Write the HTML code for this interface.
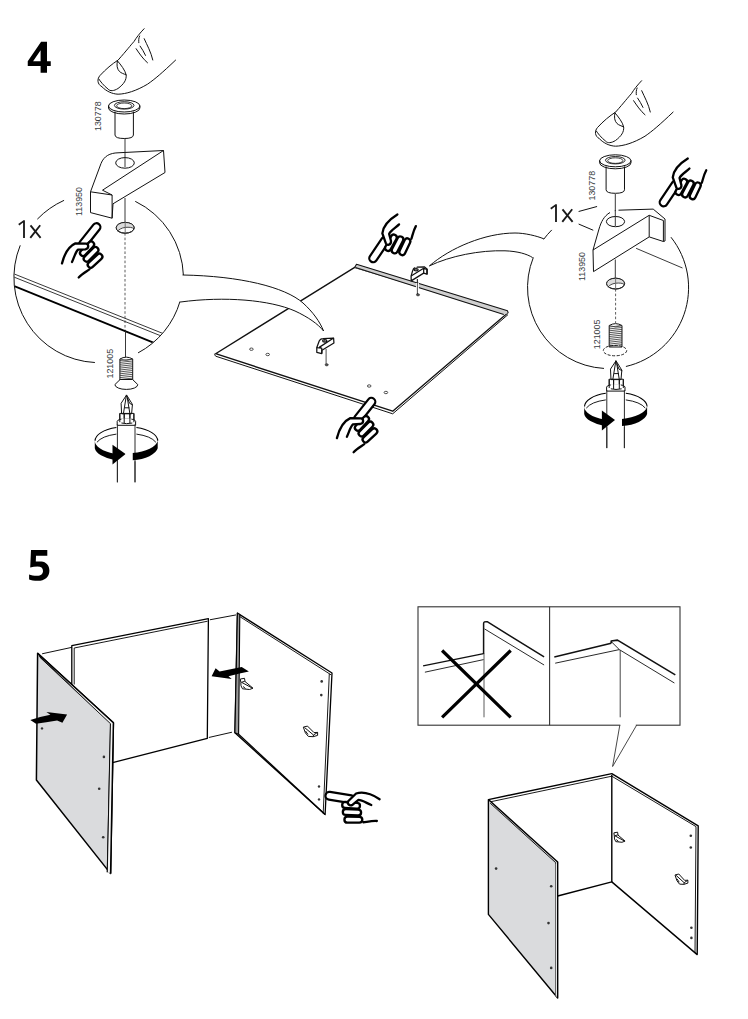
<!DOCTYPE html>
<html><head><meta charset="utf-8">
<style>
html,body{margin:0;padding:0;background:#fff;}
body{width:748px;height:1019px;overflow:hidden;position:relative;font-family:"Liberation Sans",sans-serif;}
svg{position:absolute;left:0;top:0;}
.n{font-family:"Liberation Sans",sans-serif;font-weight:bold;fill:#000;}
.pn{font-family:"Liberation Sans",sans-serif;font-size:8.9px;fill:#383c42;}
.ln{fill:none;stroke:#111;stroke-width:1;stroke-linecap:round;stroke-linejoin:round;}
.th{fill:none;stroke:#000;stroke-width:1.6;stroke-linecap:round;stroke-linejoin:round;}
</style></head>
<body>
<svg width="748" height="1019" viewBox="0 0 748 1019">
<defs>
  <!-- hand, local coords: zoom-units relative to finger tip centre -->
  <g id="hand" stroke-linecap="round" stroke-linejoin="round" fill="none">
    <path d="M0,0 L-13.5,17" stroke="#000" stroke-width="10"/><path d="M0,0 L-13.5,17" stroke="#fff" stroke-width="5.6"/>
    <path d="M-5.8,37.7 L2.9,29.6" stroke="#000" stroke-width="8.2"/><path d="M-5.8,37.7 L2.9,29.6" stroke="#fff" stroke-width="3.6"/>
    <path d="M-9.8,31.6 L-1.1,22.9" stroke="#000" stroke-width="8.2"/><path d="M-9.8,31.6 L-1.1,22.9" stroke="#fff" stroke-width="3.6"/>
    <path d="M-13.5,25.9 L-5.4,17.3" stroke="#000" stroke-width="8.2"/><path d="M-13.5,25.9 L-5.4,17.3" stroke="#fff" stroke-width="3.6"/>
    <path d="M-21.1,16.3 L-10.4,16.6 C-7.8,16.9 -7.1,21.3 -11.1,22.2 L-18.5,22.6 Z" fill="#fff" stroke="none"/>
    <path d="M-34.5,36.3 C-32.5,28.3 -28.5,19.6 -21.1,16.3 L-10.4,16.6 C-7.8,16.9 -7.1,21.3 -11.1,22.2 L-18.5,22.6 C-21.1,24.9 -22.5,30.9 -24.5,34.9" stroke="#000" stroke-width="2.3"/>
    <path d="M-17.8,50.4 C-14.5,46.9 -9.8,44.3 -7.1,42.3" stroke="#000" stroke-width="2.3"/>
  </g>
  <!-- grommet 130778 centred at flange centre -->
  <g id="grommet">
    <path class="ln" d="M-9.2,8 L-9.2,31 Q-9,34.5 0,34.5 Q9,34.5 9.2,31 L9.2,8" fill="#fff"/>
    <ellipse cx="0" cy="2" rx="15.7" ry="6" fill="#fff" stroke="#111" stroke-width="1"/>
    <path class="ln" d="M-15.7,2 L-15.7,4 A15.7,6 0 0 0 15.7,4 L15.7,2"/>
    <ellipse cx="0" cy="1.4" rx="9.8" ry="3.7" fill="none" stroke="#111" stroke-width="0.9"/>
    <ellipse cx="0" cy="1.8" rx="7.6" ry="2.8" fill="none" stroke="#111" stroke-width="0.8"/>
  </g>
  <!-- finger -->
  <g id="finger">
    <path class="ln" stroke-width="1.2" d="M144.1,28.7 C140,33 136,38 134.1,41.4 C130,46 127,50 118.1,60.1 C112,64 106,69 100,75.5 C97,79 97,84 102,86.8 C106,91 112,94 118.1,94.2 C126,94 136,91 147.5,84.2 C155,79 162,73 175.6,60.1"/>
    <path class="ln" stroke-width="1.15" d="M117.4,60.8 C121,65 125,70 126.2,75 C126.5,80 124,84 118,88.5 C114,91 110,91.5 108,89 C104,86 100,81 98.8,79"/>
    <path class="ln" d="M117.4,61 C116.5,65 117,69 119.5,71.5 C121,73 124,74 126,74.8" stroke-width="0.95"/>
    <path class="ln" d="M139.6,36 C138.6,38 138.6,41 138.8,42.7" stroke-width="0.95"/>
    <path class="ln" d="M144.2,38.7 C147,45 151,52 152.8,60" stroke-width="0.95"/>
    <path class="ln" d="M140.1,46.1 C142,49 144,52 145.5,55.4" stroke-width="0.95"/>
    <path class="ln" d="M136.1,48.7 C139,53 143,59 147.5,62.8" stroke-width="0.95"/>
  </g>
  <!-- screw thread body -->
  <g id="thread">
    <path d="M-6.4,1.5 L-6.4,23 L6.4,23 L6.4,1.5 Q0,-2.2 -6.4,1.5 Z" fill="#fff" stroke="#111" stroke-width="1"/>
    <path fill="none" stroke="#222" stroke-width="0.75" d="M-6.4,3.0 L6.4,1.6 M-6.4,4.9 L6.4,3.5 M-6.4,6.8 L6.4,5.4 M-6.4,8.7 L6.4,7.3 M-6.4,10.6 L6.4,9.2 M-6.4,12.5 L6.4,11.1 M-6.4,14.4 L6.4,13.0 M-6.4,16.3 L6.4,14.9 M-6.4,18.2 L6.4,16.8 M-6.4,20.1 L6.4,18.7 M-6.4,22.0 L6.4,20.6 "/>
    <path d="M-6.4,1.5 Q0,4.5 6.4,1.5" fill="none" stroke="#333" stroke-width="0.7"/>
  </g>
  <!-- screwdriver: origin at bit tip -->
  <g id="driver">
    <path class="ln" d="M0,0 L-5.3,8 L-4.8,18.5 L5.2,18.5 L6,9.5 Z" fill="#fff"/>
    <path class="ln" d="M0,0 L-3,18.5 M0,0 L3.2,8 L6,9.5 M1,3 L3.5,18.5 M-1.3,12.5 L2.6,12.5" stroke-width="0.8"/>
    <path class="ln" d="M-6.6,18.5 L-6.6,27 L7.5,27 L7.5,18.5 Z" fill="#fff"/>
    <path class="ln" d="M-2.2,18.5 L-2.2,27 M3.5,18.5 L3.5,27" stroke-width="0.8"/>
    <path d="M-9.2,26 A9.2,2.6 0 0 1 9.2,26 L9.2,30 L-9.2,30 Z" fill="#fff" stroke="#111" stroke-width="1"/>
    <rect x="-5" y="23" width="10" height="4" fill="#fff"/>
    <path class="ln" d="M-6.6,18.5 L-6.6,26.5 M7.5,18.5 L7.5,26.5 M-2.2,18.5 L-2.2,27.5 M3.5,18.5 L3.5,27.5 M-4.6,27.8 Q0,29 5.5,27.8" stroke-width="0.8"/>
    <!-- ring back -->
    <path fill="none" stroke="#000" stroke-width="1.1" d="M-31.3,45.5 A31.3,14 0 0 1 -10,32.2 M10,32.2 A31.3,14 0 0 1 31.3,45.5"/>
    <path fill="none" stroke="#000" stroke-width="0.9" d="M-29.5,47 A30,13 0 0 1 -10,38.8 M10,38.8 A30,13 0 0 1 29.5,47"/>
    <!-- shaft -->
    <path d="M-9,29 L-9,87 M8.6,29 L8.6,87" stroke="#2a2a2a" stroke-width="1"/>
    <!-- front band -->
    <path d="M-31.6,45.5 A31.6,14 0 0 0 -12,58.4 L-12,64.6 A31.6,14 0 0 1 -31.6,53 Z" fill="#000"/>
    <path d="M-13.9,49.5 L-13.9,69.3 L-0.8,58.8 Z" fill="#000"/>
    <path d="M6.1,57.8 A31.3,14 0 0 0 31.3,45.5 L31.3,53 A31.3,14 0 0 1 6.1,65 Z" fill="#000"/>
    <rect x="-0.8" y="50" width="6.9" height="20" fill="#fff"/>
    <path d="M-9,66 L-9,87 M8.6,66 L8.6,87" stroke="#2a2a2a" stroke-width="1"/>
  </g>
  <g id="bk1" stroke="#111" stroke-width="1" stroke-linejoin="round" vector-effect="non-scaling-stroke">
    <path d="M240.3,679 L244.5,678.3 L245,681.5 L253,688.2 L249.5,689.5 L242.5,688.8 Q240.4,686 240.8,682.5 Z" fill="#fff" vector-effect="non-scaling-stroke"/>
    <path d="M241.5,682.3 L252.5,688.2 M244.8,681.3 L241.3,682.3 M243,686.5 L245.5,688.5" fill="none" vector-effect="non-scaling-stroke"/>
  </g>
  <g id="bk2" stroke="#111" stroke-width="1" stroke-linejoin="round">
    <path d="M303.3,727.1 L307.5,726.1 L314,732.6 L317.6,732.4 L317.6,735.4 L313.1,736.7 L308.3,736.4 Q305,734 303.3,727.1 Z" fill="#fff" vector-effect="non-scaling-stroke"/>
    <path d="M304.5,727.5 L313.5,735 L317.6,732.4 M313.5,735 L313.1,736.7 M305.5,731 L308,734.5" fill="none" vector-effect="non-scaling-stroke"/>
  </g>
  <clipPath id="cl1"><circle cx="98.6" cy="277.8" r="84.3"/></clipPath>
  <g id="brL">
    <path d="M118,152.8 L163.5,150.5 L165,172.5 L113,203.8 L112.1,218.2 L90.5,212.6 L90.5,191.8 L101,163.5 C104,156 110,153 118,152.8 Z" fill="#fff"/>
    <path d="M118,152.8 C110,153 104,156 101,163.5 L90.5,191.8 L90.5,212.6 L112.1,218.2 L113,203.8 L165,172.5 L163.5,150.5 Z" fill="none" stroke="#111" style="stroke-width:var(--sw,1)" vector-effect="non-scaling-stroke" stroke-linejoin="round"/>
    <path d="M90.5,191.8 L112.1,195 L102.5,190.2 L163.5,150.5 M112.1,195 L112.1,218.2" fill="none" stroke="#111" style="stroke-width:var(--sw,1)" vector-effect="non-scaling-stroke" stroke-linejoin="round"/>
    <ellipse cx="125" cy="162.9" rx="9.3" ry="5.3" fill="#fff" stroke="#111" style="stroke-width:var(--sw,1)" vector-effect="non-scaling-stroke"/>
    <line x1="125" y1="152" x2="125" y2="167" stroke="#222" stroke-width="0.9" vector-effect="non-scaling-stroke"/>
  </g>
  <g id="brR">
    <path d="M610,212.5 C604,216 601,222 599,229 L593,250 L593.5,271.6 L649.2,236.9 L663.4,241.5 L665,241 L665,219 L653.2,209.1 L618.5,210.2 Z" fill="#fff"/>
    <path d="M610,212.5 C604,216 601,222 599,229 L593,250 L593.5,271.6 L649.2,236.9 L663.4,241.5 L665,241 L665,219 L653.2,209.1 L618.5,210.2" fill="none" stroke="#111" style="stroke-width:var(--sw,1)" vector-effect="non-scaling-stroke" stroke-linejoin="round"/>
    <path d="M593,250 L649.2,215.3 L649.2,236.9 M649.2,215.3 L663.4,220.5 L663.4,241.5" fill="none" stroke="#111" style="stroke-width:var(--sw,1)" vector-effect="non-scaling-stroke" stroke-linejoin="round"/>
    <ellipse cx="615.5" cy="221.6" rx="9.1" ry="5.1" fill="#fff" stroke="#111" style="stroke-width:var(--sw,1)" vector-effect="non-scaling-stroke"/>
    <line x1="615.3" y1="210" x2="615.3" y2="226" stroke="#222" stroke-width="0.9" vector-effect="non-scaling-stroke"/>
  </g>
</defs>

<!-- ============ STEP 4 ============ -->
<path d="M41.1,41.7 L47,41.7 L47,61.2 L50.75,61.2 L50.75,66 L47,66 L47,72.7 L40.6,72.7 L40.6,66 L27.75,66 L27.75,61.2 Z M40.6,50.2 L40.6,61.2 L33.1,61.2 Z" fill="#000" fill-rule="evenodd"/>

<!-- left finger + grommet -->
<use href="#finger"/>
<use href="#grommet" x="124.2" y="104"/>
<text class="pn" transform="translate(101,131) rotate(-90)">130778</text>
<line x1="125" y1="139" x2="125" y2="167" stroke="#222" stroke-width="0.9"/>

<!-- left magnifier circle -->
<path class="ln" d="M63.7,200.5 A84.8,84.8 0 0 0 37.6,218.9"/>
<path class="ln" d="M20.1,245.7 A84.8,84.8 0 0 0 94.5,362.5"/>
<path class="ln" d="M138.4,352.7 A84.8,84.8 0 0 0 179.9,301.8"/>
<path class="ln" d="M183.4,275.0 A84.8,84.8 0 0 0 135.6,201.5"/>
<g clip-path="url(#cl1)">
  <line x1="10" y1="272.3" x2="170" y2="336.3" stroke="#222" stroke-width="0.9"/>
  <line x1="10" y1="275.5" x2="170" y2="339.5" stroke="#222" stroke-width="0.9"/>
  <line x1="10" y1="284.4" x2="170" y2="349.4" stroke="#000" stroke-width="1.7"/>
</g>

<!-- left bracket -->
<use href="#brL"/>
<line x1="125" y1="198" x2="125" y2="228" stroke="#222" stroke-width="0.9"/>
<text class="pn" transform="translate(82,216) rotate(-90)">113950</text>
<g transform="translate(125.2,227.8)"><ellipse cx="0" cy="0" rx="9" ry="5.4" fill="#fff" stroke="#222" stroke-width="1"/>
<path d="M-9,0 A9,5.4 0 0 1 9,0 C7,-0.4 4,-0.8 0,-0.4 C-4,0.2 -6,1.7 -7.7,3.5 Z" fill="#dcdcdc"/>
<path d="M-7.7,3.5 C-6,1.7 -4,0.2 0,-0.4 C4,-0.8 7,-0.4 8.8,0.8" fill="none" stroke="#333" stroke-width="0.9"/>
<ellipse cx="0" cy="0" rx="9" ry="5.4" fill="none" stroke="#222" stroke-width="1"/>
<line x1="0" y1="-6" x2="0" y2="5.5" stroke="#666" stroke-width="0.9"/></g>
<line x1="125" y1="233" x2="125" y2="330" stroke="#333" stroke-width="0.8" stroke-dasharray="2.6,2"/>
<line x1="125.5" y1="330" x2="125.5" y2="357" stroke="#222" stroke-width="0.9"/>
<path d="M18.8,224.8 Q21.8,222.3 24,221 L24,237.9 M30.5,225.3 L40.6,237.9 M40.2,225.3 L30.3,237.9" fill="none" stroke="#1a1a1a" stroke-width="1.85" stroke-linejoin="round"/>

<use href="#hand" x="96.5" y="227.1"/>

<!-- left screw -->
<use href="#thread" x="126.3" y="357.5"/>
<path d="M120.1,379.5 L114.9,384.6 A11.4,4.8 0 0 0 137.8,384.6 L132.6,379.5 Z" fill="#fff" stroke="#111" stroke-width="1"/>
<text class="pn" transform="translate(112.5,378.5) rotate(-90)" >121005</text>
<use href="#driver" x="126.4" y="395.3"/>

<!-- centre panel -->
<g>
  <path d="M215.6,353.7 L354.7,267.4 L507.6,313.1 L392.7,411.2 Z" fill="#fff" stroke="#111" stroke-width="1.35" stroke-linejoin="round"/>
  <path d="M356.5,264.2 L507.5,310.8 L508.2,313 L504,314.8 L355,267.8 Z" fill="#cfcfcf"/>
  <path d="M354.7,267.4 L356.5,264.2 L507.5,310.8 L508.2,313" stroke="#111" stroke-width="1.1" fill="none" stroke-linejoin="round"/>
  <path d="M355.5,267.6 L503.8,314.5" stroke="#111" stroke-width="1.1" fill="none"/>
  <path d="M216,356.3 L392.7,413.8 L508,314.6" stroke="#111" stroke-width="1" fill="none"/>
  <path d="M214.5,353.7 L215.5,356.3" stroke="#111" stroke-width="1"/>
</g>
<!-- panel holes -->
<g fill="#fff" stroke="#222" stroke-width="0.8">
  <ellipse cx="251.4" cy="349.2" rx="1.8" ry="1.2"/>
  <ellipse cx="267.7" cy="354.5" rx="1.8" ry="1.2"/>
  <ellipse cx="369.2" cy="386" rx="1.8" ry="1.2"/>
  <ellipse cx="385.9" cy="392.5" rx="1.8" ry="1.2"/>
</g>
<g fill="#555" stroke="#222" stroke-width="0.6">
  <ellipse cx="326.7" cy="364.8" rx="1.6" ry="1.1"/>
  <ellipse cx="418" cy="294.8" rx="1.6" ry="1.1"/>
</g>
<line x1="326.1" y1="349" x2="326.1" y2="364" stroke="#222" stroke-width="0.8"/>
<line x1="417.4" y1="279" x2="417.4" y2="294" stroke="#222" stroke-width="0.8"/>
<!-- small brackets on panel -->
<use href="#brL" style="--sw:1.25" transform="translate(316.8,352.3) scale(0.23) translate(-90.5,-212.6)"/>
<line x1="417.4" y1="283" x2="417.4" y2="293" stroke="#fff" stroke-width="3"/><line x1="417.4" y1="279" x2="417.4" y2="294" stroke="#222" stroke-width="0.8"/><use href="#brR" style="--sw:1.25" transform="translate(411.2,280.9) scale(0.224) translate(-593.5,-271.6)"/>

<!-- tails (white filled, over panel) -->
<path d="M183,275 C240,276 285,287 303,303 C313,312 320,322 323.6,331 C318,324 308,317 295,311 C270,300 225,296 180.5,302 Z" fill="#fff"/>
<path class="ln" d="M183,275 C240,276 285,287 303,303 C313,312 320,322 323.6,331 C318,324 308,317 295,311 C270,300 225,296 180.5,302"/>
<path d="M543.5,238.7 C537,236 525,233 515,233 C485,233 450,248 429.4,265.9 C450,256 480,250 505,250.8 C518,251.3 527,254 532.3,257.4 Z" fill="#fff"/>
<path class="ln" d="M543.5,238.7 C537,236 525,233 515,233 C485,233 450,248 429.4,265.9 C450,256 480,250 505,250.8 C518,251.3 527,254 532.3,257.4"/>

<use href="#hand" transform="matrix(0.302,0.953,0.953,-0.302,373.2,258.3)"/>
<use href="#hand" x="371.4" y="401.8"/>

<!-- ============ right detail ============ -->
<use href="#finger" x="497.5" y="52"/>
<use href="#grommet" x="615.3" y="158.8"/>
<text class="pn" transform="translate(595,200.5) rotate(-90)">130778</text>
<line x1="615.3" y1="194" x2="615.3" y2="224" stroke="#222" stroke-width="0.9"/>

<!-- right circle -->
<path class="ln" d="M551.5,230.2 A80.7,80.7 0 0 0 543.9,239.0"/>
<path class="ln" d="M533.2,257.8 A80.7,80.7 0 0 0 603.6,368.4"/>
<path class="ln" d="M626.3,366.4 A80.7,80.7 0 0 0 671.2,237.5"/>
<line x1="636.1" y1="248.3" x2="682.5" y2="268" stroke="#222" stroke-width="0.9"/>
<path class="ln" d="M579,211.4 L596.7,206.6 M579,224.2 L592.9,230.1" stroke-width="1"/>
<g transform="translate(532,-16)"><path d="M18.8,224.8 Q21.8,222.3 24,221 L24,237.9 M30.5,225.3 L40.6,237.9 M40.2,225.3 L30.3,237.9" fill="none" stroke="#1a1a1a" stroke-width="1.85" stroke-linejoin="round"/></g>

<!-- right bracket -->
<use href="#brR"/>
<line x1="615.3" y1="259.5" x2="615.3" y2="283" stroke="#222" stroke-width="0.9"/>
<text class="pn" transform="translate(585,281) rotate(-90)">113950</text>
<g transform="translate(615.6,283.6)"><ellipse cx="0" cy="0" rx="9" ry="5.4" fill="#fff" stroke="#222" stroke-width="1"/>
<path d="M-9,0 A9,5.4 0 0 1 9,0 C7,-0.4 4,-0.8 0,-0.4 C-4,0.2 -6,1.7 -7.7,3.5 Z" fill="#dcdcdc"/>
<path d="M-7.7,3.5 C-6,1.7 -4,0.2 0,-0.4 C4,-0.8 7,-0.4 8.8,0.8" fill="none" stroke="#333" stroke-width="0.9"/>
<ellipse cx="0" cy="0" rx="9" ry="5.4" fill="none" stroke="#222" stroke-width="1"/>
<line x1="0" y1="-6" x2="0" y2="5.5" stroke="#666" stroke-width="0.9"/></g>
<line x1="615.6" y1="289" x2="615.6" y2="323" stroke="#333" stroke-width="0.8" stroke-dasharray="2.6,2"/>
<g transform="translate(615.6,324)"><use href="#thread"/></g>
<ellipse cx="615" cy="350.6" rx="11.7" ry="5.2" fill="none" stroke="#111" stroke-width="0.9" stroke-dasharray="3,1.5"/>
<text class="pn" transform="translate(600,349.2) rotate(-90)">121005</text>
<use href="#driver" x="615.8" y="361.1"/>

<use href="#hand" transform="matrix(0.302,0.953,0.953,-0.302,663.6,202.4)"/>

<!-- ============ STEP 5 ============ -->
<path d="M31,550.1 L47.3,550.1 L47.3,555.7 L36,555.7 L35.8,561.6 C38,561.4 40,561.4 41.4,561.6 C46,562 49.4,565.5 49.4,570.7 C49.4,577 44.5,580.8 38,580.8 C34,580.8 31,580.2 29.1,579.5 L29.1,574.4 C31,575.2 34,575.8 37,575.8 C41,575.8 43,573.5 43,570.9 C43,568 41,566.6 37.5,566.6 C35,566.6 32.5,567 30.2,567.4 Z" fill="#000"/>

<!-- guide lines -->
<path class="ln" d="M42.5,653.7 L72.1,647.3 M210.3,619.7 L235.6,615 M209.2,737.4 L231.6,732.3" stroke-width="0.9"/>
<!-- back panel -->
<path d="M72.1,645.7 L208.4,618.7 L207.3,738.4 L113.6,762.3 L72.1,700 Z" fill="#fff"/>
<path d="M71.8,684.5 L71.8,645.7 L208.4,618.7 L207.3,738.4 L112.6,762.7" fill="none" stroke="#000" stroke-width="1.3" stroke-linejoin="round"/>
<path d="M74.2,684.5 L74.2,648 L207.6,621.2" fill="none" stroke="#000" stroke-width="0.9"/>
<!-- left gray panel -->
<path d="M37.6,653.3 L113.4,722.8 L110.6,873.6 L36.4,780 Z" fill="#dadbdd" stroke="#000" stroke-width="1.5" stroke-linejoin="round"/>
<path d="M39.2,656.2 L110.6,722.5 L107.2,872.2" fill="none" stroke="#000" stroke-width="0.9"/>
<path d="M40,655.4 L110.8,720.6 L113.4,722.8 L112,790 L110.6,873.6 L107.5,871.5 L110.6,724 Z" fill="#f4f4f4"/>
<path d="M37.6,653.3 L113.4,722.8 L110.6,873.6" fill="none" stroke="#000" stroke-width="1.5" stroke-linejoin="round"/>
<path d="M39.6,657 L110.4,723.6 L107.3,872.3" fill="none" stroke="#000" stroke-width="0.9" stroke-linejoin="round"/>
<g fill="#333"><circle cx="42" cy="728.4" r="1.2"/><circle cx="103.9" cy="756.9" r="1.3"/><circle cx="99.2" cy="788.7" r="1.3"/><circle cx="103.2" cy="837.3" r="1.3"/></g>
<!-- arrow on gray panel -->
<path d="M30.3,720.1 Q40,716.5 50.4,714.7 L46.4,712 L67.1,714.4 L62.4,722.7 L57.1,720.4 Q46,722 36,723.8 Z" fill="#000"/>

<!-- right white panel -->
<path d="M237.4,613.1 L332,673 L325.1,814.6 L234.9,732.8 Z" fill="#fff" stroke="#000" stroke-width="1.3" stroke-linejoin="round"/>
<path d="M237.4,613.1 L239.8,614.6 L238.6,734.2 L234.9,732.8 Z" fill="#9a9a9a" stroke="#000" stroke-width="1.1" stroke-linejoin="round"/>
<path d="M239.8,616.6 L331,674.8" fill="none" stroke="#000" stroke-width="0.9"/>
<path d="M329.3,673.8 L323.2,813.5" fill="none" stroke="#000" stroke-width="0.9"/>
<path d="M238.6,734.2 L325.1,814.6" fill="none" stroke="#000" stroke-width="1.3"/>
<g fill="#333"><circle cx="321.7" cy="681.4" r="1.3"/><circle cx="321.3" cy="695.1" r="1.3"/><circle cx="319" cy="786.5" r="1.2"/><circle cx="319" cy="799.4" r="1.2"/></g>
<!-- arrow left -->
<path d="M211.6,676.3 L215.6,668.2 L219.6,671.4 L241.7,667 L248.9,671.4 L238.5,673.8 L228.5,676.3 L231.7,679.1 Z" fill="#000"/>
<!-- small brackets -->
<use href="#bk1"/>
<use href="#bk2"/>

<use href="#hand" transform="matrix(-0.74,0.68,0.68,0.74,329.4,795.8)"/>

<!-- inset box -->
<rect x="418" y="606.8" width="262" height="118.4" fill="#fff" stroke="#333" stroke-width="1.1"/>
<line x1="549.6" y1="606.8" x2="549.6" y2="725.2" stroke="#333" stroke-width="1.1"/>
<rect x="620.3" y="723" width="15.5" height="4" fill="#fff"/>
<path d="M619.8,725.2 L612.6,766.5 L636.6,725.2" fill="none" stroke="#333" stroke-width="0.9"/>
<!-- wrong detail -->
<path d="M423.1,665.9 L483.6,653.6" fill="none" stroke="#111" stroke-width="1.4"/>
<path d="M424.9,672.2 L483.6,659.6" fill="none" stroke="#111" stroke-width="0.9"/>
<path d="M484,717.3 L484,653.6" fill="none" stroke="#333" stroke-width="0.8"/>
<path d="M483.6,654 L483.6,623.5 Q483.8,621.3 487.2,621.7 L544.1,656.9" fill="none" stroke="#111" stroke-width="1.5" stroke-linejoin="round"/>
<path d="M484.5,628.9 L544.1,665" fill="none" stroke="#111" stroke-width="0.9"/>
<path d="M442.1,650.5 L510.7,717.3 M510.7,650.5 L442.1,717.3" stroke="#000" stroke-width="3.2" stroke-linecap="butt"/>
<!-- right detail -->
<path d="M554.3,656.9 L611.2,643.3" fill="none" stroke="#111" stroke-width="1.5"/>
<path d="M611.2,643.3 L611.2,641 L617.5,640.1 L675.3,674.9" fill="none" stroke="#111" stroke-width="1.6" stroke-linejoin="round"/>
<path d="M555.2,663.2 L619.3,649.6 L674.4,683 M611.2,641.5 L619.3,649.6" fill="none" stroke="#111" stroke-width="0.9"/>
<line x1="620.2" y1="650" x2="620.2" y2="717.3" stroke="#333" stroke-width="0.9"/>

<!-- assembled cabinet -->
<path d="M488.4,799.6 L611.8,773.6 L698.2,825.9 L697.2,954.6 L611.8,881.9 L557.7,896 L557.7,861.9 Z" fill="#fff" stroke="none"/>
<path d="M488.4,799.6 L611.8,773.6 L698.2,825.9 L697.2,954.6 L611.8,881.9 L557.7,896" fill="none" stroke="#000" stroke-width="1.4" stroke-linejoin="round"/>
<path d="M490,801.9 L611.8,776.2 L696,826.6 L695,953" fill="none" stroke="#000" stroke-width="0.9"/>
<path d="M611.8,775 L611.8,881.9" fill="none" stroke="#000" stroke-width="1.4"/>
<path d="M488.4,799.6 L557.7,861.9 L557.7,998 L488.4,914.4 Z" fill="#dadbdd" stroke="#000" stroke-width="1.4" stroke-linejoin="round"/>
<path d="M490.2,803.2 L555.6,862.6 L555.6,996.5" fill="none" stroke="#000" stroke-width="0.9"/>
<path d="M556.2,863.5 L556.2,996.8" fill="none" stroke="#f2f2f2" stroke-width="1"/>
<g fill="#333"><circle cx="496.1" cy="868.6" r="1.3"/><circle cx="551.2" cy="886.3" r="1.3"/><circle cx="548.5" cy="923.1" r="1.3"/><circle cx="551.2" cy="967.9" r="1.3"/>
<circle cx="690.8" cy="835.7" r="1.3"/><circle cx="690.8" cy="847.5" r="1.3"/><circle cx="691.4" cy="927.7" r="1.3"/><circle cx="691.4" cy="937.9" r="1.3"/></g>
<use href="#bk1" transform="translate(613.8,832.2) scale(0.88,0.9) translate(-240.2,-678.3)"/>
<use href="#bk2" transform="translate(675,874) scale(0.9,0.98) translate(-303.3,-726.1)"/>

</svg>
</body></html>
